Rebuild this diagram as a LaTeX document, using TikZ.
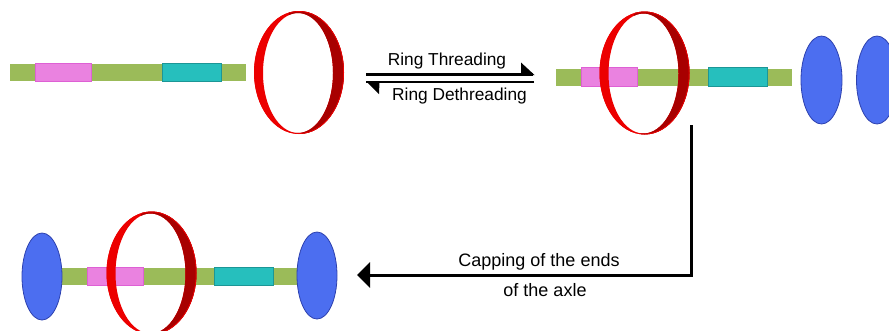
\documentclass[tikz,border=0pt]{standalone}
\usepackage{fontspec}
\setmainfont{Liberation Sans}
\usetikzlibrary{arrows.meta}
\definecolor{axlegreen}{RGB}{155,187,89}
\definecolor{pinkfill}{RGB}{234,130,224}
\definecolor{pinkline}{RGB}{222,96,212}
\definecolor{cyanfill}{RGB}{38,191,189}
\definecolor{cyanline}{RGB}{28,150,150}
\definecolor{capblue}{RGB}{76,110,240}
\definecolor{capline}{RGB}{45,65,175}
\definecolor{ringred}{RGB}{236,0,0}
\definecolor{ringdark}{RGB}{168,0,0}
\tikzset{
  lbl/.style={font=\fontsize{17.3}{20}\selectfont, inner sep=0pt},
  biglbl/.style={font=\fontsize{18}{21}\selectfont, inner sep=0pt},
  axle/.pic={
    \fill[axlegreen] (0,-8.5) rectangle (236,8.5);
    \filldraw[fill=pinkfill, draw=pinkline, line width=0.8pt] (25.5,-9.3) rectangle (81,9.3);
    \filldraw[fill=cyanfill, draw=cyanline, line width=0.8pt] (152,-9.3) rectangle (211,9.3);
  },
  ring/.pic={
    \fill[ringred, even odd rule] (0.5,-0.5) ellipse [x radius=45, y radius=61.5]
         (-0.5,0) ellipse [x radius=35, y radius=60];
    \begin{scope}
      \clip (-10.5,-70) -- (50,-70) -- (50,70) -- (-2.5,70) -- cycle;
      \fill[ringdark, even odd rule] (0.5,-0.5) ellipse [x radius=45, y radius=61.5]
           (-0.5,0) ellipse [x radius=35, y radius=60];
    \end{scope}
    \draw[ringred, line width=0.7pt] (0.5,-0.5) ellipse [x radius=44.6, y radius=61.1];
  },
  stopper/.style={fill=capblue, draw=capline, line width=0.8pt},
  flow/.style={line width=3pt, black}
}
\begin{document}
\begin{tikzpicture}[x=1pt, y=-1pt]
\useasboundingbox (0,0) rectangle (889,330);
% panel 1
\pic at (10,72.5) {axle};
\pic at (298.5,73) {ring};
% equilibrium arrows
\coordinate (fwdA) at (366,74.5);
\coordinate (fwdB) at (533,74.5);
\coordinate (bckA) at (534,82);
\coordinate (bckB) at (366,82);
\draw[flow, line width=2.6pt] (fwdA) -- (fwdB);
\fill (fwdB) ++(-12,-12) -- ++(13.5,12.5) -- ++(-13.5,0) -- cycle;
\draw[flow, line width=2.6pt] (bckA) -- (bckB);
\fill (bckB) ++(0,-0.8) -- ++(13.5,0) -- ++(-0.5,13) -- cycle;
\node[lbl] (thr) at (447,61) {Ring Threading};
\node[lbl] (dethr) at (459.5,96) {Ring Dethreading};
% panel 2
\pic at (556,77) {axle};
\pic at (644,73.5) {ring};
\filldraw[stopper] (821.5,80) ellipse [x radius=20.5, y radius=44];
\filldraw[stopper] (877,80) ellipse [x radius=20.5, y radius=44];
% capping arrow
\coordinate (capstart) at (691,125);
\coordinate (captip) at (357,275);
\draw[flow, -{Triangle[length=13pt,width=25pt]}] (capstart) |- (captip);
\node[biglbl] (caplbl1) at (539,262) {Capping of the ends};
\node[biglbl] (caplbl2) at (545,290) {of the axle};
% panel 3
\pic at (62,276.5) {axle};
\filldraw[stopper] (42,276.5) ellipse [x radius=20, y radius=43.5];
\filldraw[stopper] (317,275.5) ellipse [x radius=20, y radius=43.5];
\pic at (151,273.5) {ring};
\end{tikzpicture}
\end{document}
